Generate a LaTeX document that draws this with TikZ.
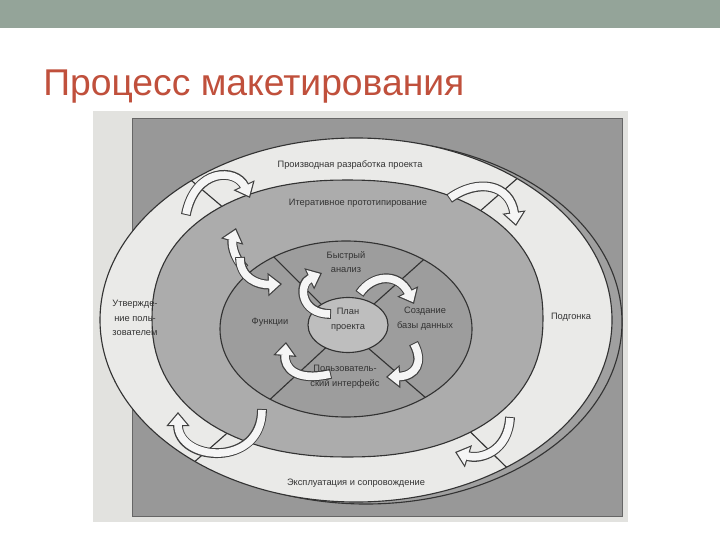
\documentclass[tikz,border=0pt]{standalone}
\usepackage{fontspec}
\setmainfont{Liberation Sans}
\usetikzlibrary{arrows.meta}

\definecolor{barcol}{RGB}{148,164,153}
\definecolor{titlecol}{RGB}{192,80,60}
\definecolor{scancol}{RGB}{226,226,223}
\definecolor{backcol}{RGB}{152,152,152}
\definecolor{shadecol}{RGB}{160,160,160}
\definecolor{ringcol}{RGB}{234,234,232}
\definecolor{midcol}{RGB}{172,172,172}
\definecolor{corecol}{RGB}{157,157,157}
\definecolor{plancol}{RGB}{190,190,190}

% hollow curved arrow: dark outline pass, light fill pass
\newcommand{\turnarrow}[1]{\draw[arrout] #1; \draw[arrin] #1;}

\begin{document}
\begin{tikzpicture}[x=0.025cm, y=0.025cm,
  edge/.style={line width=0.8pt, draw=black!80},
  lbl/.style={font=\fontsize{6.6}{10.5}\selectfont, text=black!80, align=center, inner sep=0pt},
  arrout/.style={line width=7pt, draw=black!75, shorten <=-0.7pt, -{Triangle[length=10pt,width=16pt]}},
  arrin/.style={line width=5.4pt, draw=black!4, shorten >=1.4pt, -{Triangle[length=7.8pt,width=12.6pt]}}]
  \useasboundingbox (0,0) rectangle (720,540);
  \fill[white] (0,0) rectangle (720,540);
  \fill[barcol] (0,512) rectangle (720,540);
  \node[anchor=base west, inner sep=0pt, text=titlecol, font=\fontsize{26.5}{30}\selectfont] (title) at (43,444) {Процесс макетирования};
  % scanned figure
  \fill[scancol] (93,18) rectangle (628,429);
  \draw[line width=0.6pt, draw=black!60, fill=backcol] (132,24) rectangle (622,422);
  \draw[edge, fill=shadecol] (366,218) ellipse [x radius=256, y radius=182];
  \draw[edge, fill=ringcol] (356,220) ellipse [x radius=256, y radius=182];
  \foreach \a in {130,51,231,306} \draw[edge] (356,220) -- ++(\a:256 and 182);
  \draw[edge, fill=midcol] plot[domain=0:360, samples=121] ({347.5+195.5*sign(cos(\x))*abs(cos(\x))^0.9}, {221.5+138.5*sign(sin(\x))*abs(sin(\x))^0.9}) -- cycle;
  \draw[edge, fill=corecol] (346,211) ellipse [x radius=126, y radius=88];
  \foreach \a in {125,52,233,309} \draw[edge] (346,211) -- ++(\a:126 and 88);
  \draw[edge, fill=plancol] (348,215) ellipse [x radius=40, y radius=27.5];
  % arrows
  \turnarrow{(186,326) .. controls (195,372) and (236,372) .. (250,342)}
  \turnarrow{(450,342) .. controls (478,362) and (510,356) .. (516,314)}
  \turnarrow{(244,272) .. controls (232,284) and (232,298) .. (236,312)}
  \turnarrow{(240,282) .. controls (240,262) and (258,255) .. (282,256)}
  \turnarrow{(330,226) .. controls (300,226) and (298,256) .. (322,267)}
  \turnarrow{(360,247) .. controls (372,265) and (398,268) .. (414,236)}
  \turnarrow{(330,166) .. controls (296,158) and (284,172) .. (286,198)}
  \turnarrow{(414,196) .. controls (424,178) and (416,164) .. (386,163)}
  \turnarrow{(262,130) .. controls (262,72) and (178,78) .. (178,128)}
  \turnarrow{(510,122) .. controls (508,88) and (480,80) .. (455,88)}
  % labels
  \node[lbl] (prod) at (350,375) {Производная разработка проекта};
  \node[lbl] (iter) at (358,337) {Итеративное прототипирование};
  \node[lbl] (fast) at (346,278) {Быстрый\\анализ};
  \node[lbl] (func) at (270,218) {Функции};
  \node[lbl] (plan) at (348,220) {План\\проекта};
  \node[lbl] (base) at (425,221) {Создание\\базы данных};
  \node[lbl] (user) at (345,163) {Пользователь-\\ский интерфейс};
  \node[lbl] (okay) at (135,222) {Утвержде-\\ние поль-\\зователем};
  \node[lbl] (tune) at (571,223) {Подгонка};
  \node[lbl] (oper) at (356,57) {Эксплуатация и сопровождение};
\end{tikzpicture}
\end{document}
